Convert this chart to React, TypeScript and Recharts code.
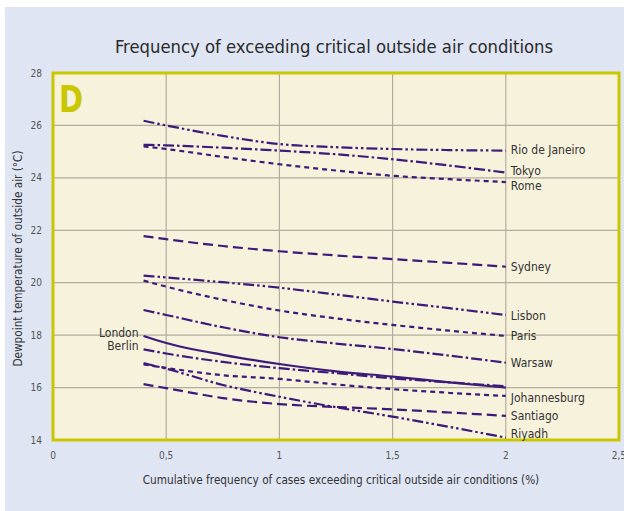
import React from 'react';
import { LineChart, Line, XAxis, YAxis, CartesianGrid, ReferenceArea, Label } from 'recharts';

const xValues = [0.4, 0.5, 0.75, 1, 1.25, 1.5, 1.75, 2];
const xTicks = [0, 0.5, 1, 1.5, 2, 2.5];
const yTicks = [14, 16, 18, 20, 22, 24, 26, 28];

const rioDeJaneiro = [26.18, 26.0, 25.6, 25.29, 25.17, 25.1, 25.06, 25.04];
const tokyo = [25.26, 25.24, 25.15, 25.04, 24.9, 24.71, 24.47, 24.2];
const rome = [25.2, 25.1, 24.8, 24.52, 24.28, 24.08, 23.95, 23.84];
const sydney = [21.78, 21.66, 21.4, 21.2, 21.04, 20.9, 20.76, 20.61];
const lisbon = [20.27, 20.2, 20.02, 19.81, 19.55, 19.28, 19.03, 18.77];
const paris = [20.08, 19.85, 19.35, 18.94, 18.64, 18.39, 18.17, 17.97];
const warsaw = [18.96, 18.77, 18.3, 17.92, 17.68, 17.47, 17.22, 16.95];
const london = [17.97, 17.7, 17.25, 16.9, 16.62, 16.42, 16.2, 16.0];
const berlin = [17.46, 17.3, 16.98, 16.74, 16.55, 16.35, 16.2, 16.05];
const johannesburg = [16.88, 16.75, 16.47, 16.33, 16.12, 15.94, 15.8, 15.68];
const santiago = [16.13, 15.98, 15.6, 15.37, 15.26, 15.17, 15.05, 14.92];
const riyadh = [16.93, 16.72, 16.1, 15.65, 15.25, 14.89, 14.5, 14.09];

const FONT = '"DejaVu Sans Condensed", "Liberation Sans Narrow", "Noto Sans", sans-serif';
const LINE_COLOR = '#3b1a7a';

const DASH_DOT_DOT = '11 3 2.5 3 2.5 3';
const DASH_DOT = '11 3 2.5 3';
const SHORT_DASH = '5 4';
const LONG_DASH = '10 5';

type Series = { key: string; name: string; values: number[]; dash?: string; side: 'start' | 'end'; dy: number };

const series: Series[] = [
  { key: 'rio', name: 'Rio de Janeiro', values: rioDeJaneiro, dash: DASH_DOT_DOT, side: 'end', dy: -1 },
  { key: 'tokyo', name: 'Tokyo', values: tokyo, dash: DASH_DOT, side: 'end', dy: -2 },
  { key: 'rome', name: 'Rome', values: rome, dash: SHORT_DASH, side: 'end', dy: 4 },
  { key: 'sydney', name: 'Sydney', values: sydney, dash: LONG_DASH, side: 'end', dy: 0 },
  { key: 'lisbon', name: 'Lisbon', values: lisbon, dash: DASH_DOT_DOT, side: 'end', dy: 1 },
  { key: 'paris', name: 'Paris', values: paris, dash: SHORT_DASH, side: 'end', dy: 0 },
  { key: 'warsaw', name: 'Warsaw', values: warsaw, dash: DASH_DOT, side: 'end', dy: 0 },
  { key: 'london', name: 'London', values: london, dash: undefined, side: 'start', dy: -3 },
  { key: 'berlin', name: 'Berlin', values: berlin, dash: DASH_DOT, side: 'start', dy: -3 },
  { key: 'johannesburg', name: 'Johannesburg', values: johannesburg, dash: SHORT_DASH, side: 'end', dy: 2 },
  { key: 'santiago', name: 'Santiago', values: santiago, dash: LONG_DASH, side: 'end', dy: 0 },
  { key: 'riyadh', name: 'Riyadh', values: riyadh, dash: DASH_DOT_DOT, side: 'end', dy: -4 },
];

const data = xValues.map((x, i) => {
  const row: Record<string, number> = { x };
  series.forEach((s) => {
    row[s.key] = s.values[i];
  });
  return row;
});

const fmt = (v: number) => String(v).replace('.', ',');

const makeLabel = (s: Series) => (props: any) => {
  const { x, y, index } = props;
  const target = s.side === 'start' ? 0 : xValues.length - 1;
  if (index !== target || x == null || y == null) return <g key={`${s.key}-${index}`} />;
  const isStart = s.side === 'start';
  return (
    <text
      key={`${s.key}-${index}`}
      x={isStart ? x - 5 : x + 5}
      y={y + s.dy}
      dy="0.35em"
      textAnchor={isStart ? 'end' : 'start'}
      fontFamily={FONT}
      fontSize={12}
      fill="#333333"
    >
      {s.name}
    </text>
  );
};

export default function App() {
  return (
    <div style={{ position: 'absolute', left: 0, top: 0, width: 624, height: 511, background: '#ffffff', overflow: 'hidden' }}>
      <div style={{ position: 'absolute', left: 5, top: 7, width: 619, height: 504, background: '#dfe5f3' }} />
      <div
        style={{
          position: 'absolute',
          left: 0,
          width: 668,
          top: 35,
          textAlign: 'center',
          fontFamily: FONT,
          fontSize: 18.3,
          color: '#2a2a2a',
          lineHeight: '24px',
        }}
      >
        Frequency of exceeding critical outside air conditions
      </div>
      <div style={{ position: 'absolute', left: 0, top: 0 }}>
        <LineChart width={624} height={511} data={data} margin={{ top: 73, right: 5, bottom: 0, left: 0 }}>
          <CartesianGrid fill="#f7f2dc" stroke="#b3ad9f" strokeWidth={1.2} />
          <XAxis
            dataKey="x"
            type="number"
            domain={[0, 2.5]}
            ticks={xTicks}
            tickFormatter={fmt}
            axisLine={false}
            tickLine={false}
            tickSize={0}
            tickMargin={12}
            height={71}
            interval={0}
            tick={{ fontFamily: FONT, fontSize: 10, fill: '#555555' }}
          >
            <Label
              value="Cumulative frequency of cases exceeding critical outside air conditions (%)"
              position="insideBottom"
              offset={27}
              dx={5}
              style={{ fontFamily: FONT, fontSize: 11.7, fill: '#333333' }}
            />
          </XAxis>
          <YAxis
            type="number"
            domain={[14, 28]}
            ticks={yTicks}
            axisLine={false}
            tickLine={false}
            tickSize={0}
            tickMargin={11}
            width={53}
            interval={0}
            tick={{ fontFamily: FONT, fontSize: 10, fill: '#555555' }}
          >
            <Label
              value="Dewpoint temperature of outside air (°C)"
              angle={-90}
              position="center"
              dx={-9}
              dy={2}
              style={{ fontFamily: FONT, fontSize: 11.7, fill: '#333333', textAnchor: 'middle' }}
            />
          </YAxis>
          {series.map((s) => (
            <Line
              key={s.key}
              dataKey={s.key}
              name={s.name}
              type="monotone"
              stroke={LINE_COLOR}
              strokeWidth={2.2}
              strokeDasharray={s.dash}
              dot={false}
              activeDot={false}
              isAnimationActive={false}
              label={makeLabel(s)}
            />
          ))}
          <ReferenceArea x1={0} x2={2.5} y1={14} y2={28} fill="none" stroke="#c9c800" strokeWidth={3} ifOverflow="visible" />
        </LineChart>
      </div>
      <div
        style={{
          position: 'absolute',
          left: 59,
          top: 79,
          fontFamily: FONT,
          fontWeight: 'bold',
          fontSize: 38,
          lineHeight: '40px',
          color: '#c9c800',
          transform: 'scaleX(0.85)',
          transformOrigin: 'left top',
        }}
      >
        D
      </div>
    </div>
  );
}
